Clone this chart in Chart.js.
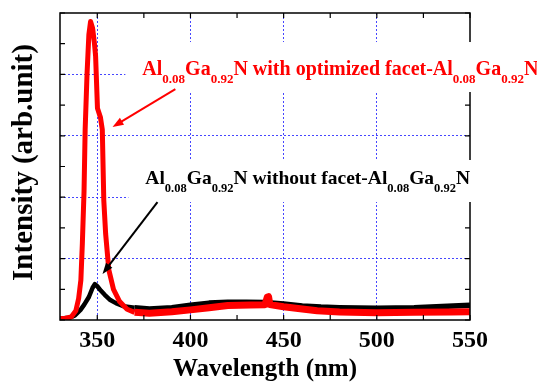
<!DOCTYPE html>
<html><head><meta charset="utf-8">
<script src="https://cdn.jsdelivr.net/npm/chart.js@4/dist/chart.umd.min.js"></script>
<style>html,body{margin:0;padding:0;background:#fff;}#wrap{width:537px;height:383px;}</style>
</head><body><div id="wrap"><canvas id="c" width="537" height="383"></canvas></div>
<script>
// ---- data (wavelength in nm, intensity in arb. units) ----
const RED_X = [330,333,336,338.5,340,341.2,342,342.9,343.5,344.5,345.5,346.4,347.5,348.5,349.1,350.1,351.7,352.7,353.5,354.5,356.2,358.7,362,366,370,378,390,400,410,420,432,440,441.2,441.9,442.6,450,460,468,480,500,520,540,550];
const RED_Y = [0.05,0.06,0.1,0.3,0.7,1.3,2.5,4.2,6.2,8.0,9.3,9.72,9.5,9.0,8.6,6.9,6.6,6.2,3.9,2.8,1.63,1.0,0.6,0.35,0.25,0.22,0.27,0.33,0.4,0.47,0.49,0.5,0.74,0.76,0.5,0.43,0.36,0.3,0.26,0.24,0.25,0.26,0.27];
const BLACK_X = [330,335,338,341,343,345.5,347.5,348.7,350,352,354,357,360,364,370,378,390,400,410,420,430,440,450,460,470,480,500,520,535,550];
const BLACK_Y = [0.05,0.07,0.15,0.33,0.5,0.75,1.05,1.17,1.1,0.95,0.82,0.65,0.55,0.45,0.4,0.36,0.4,0.48,0.55,0.58,0.58,0.57,0.52,0.46,0.42,0.4,0.38,0.4,0.44,0.48];

// ---- axes ----
const X_LABEL_TICKS = [350,400,450,500,550];
const X_MINOR_TICKS = [375,425,475,525];
const X_GRID = [350,400,450,500];
const Y_TICKS = [0,1,2,3,4,5,6,7,8,9,10];
const Y_GRID = [2,4,6,8];
const X_TITLE = 'Wavelength (nm)';
const Y_TITLE = 'Intensity (arb.unit)';

// ---- annotations ----
const RED_LABEL = [['Al',0],['0.08',1],['Ga',0],['0.92',1],['N with optimized facet-Al',0],['0.08',1],['Ga',0],['0.92',1],['N',0]];
const BLACK_LABEL = [['Al',0],['0.08',1],['Ga',0],['0.92',1],['N without facet-Al',0],['0.08',1],['Ga',0],['0.92',1],['N',0]];
const RED_LABEL_AT = [374.2, 7.98];
const BLACK_LABEL_AT = [375.8, 4.43];
const RED_ARROW = [[391.9, 7.52], [358.2, 6.29]];
const BLACK_ARROW = [[382.3, 3.84], [352.8, 1.5]];

const FONT = '"Liberation Serif", "Times New Roman", serif';
const GRID_BLUE = 'rgba(50,50,255,0.9)';

function pts(xs, ys){ return xs.map((x,i)=>({x:x, y:ys[i]})); }

function drawChem(ctx, x, y, parts, color, main, sub){
  ctx.fillStyle = color;
  ctx.textBaseline = 'alphabetic';
  ctx.textAlign = 'left';
  let cx = x;
  for (const [t, s] of parts){
    ctx.font = 'bold ' + (s ? sub : main) + 'px ' + FONT;
    ctx.fillText(t, cx, s ? y + 8 : y);
    cx += ctx.measureText(t).width;
  }
  return cx;
}
function chemWidth(ctx, parts, main, sub){
  let w = 0;
  for (const [t, s] of parts){
    ctx.font = 'bold ' + (s ? sub : main) + 'px ' + FONT;
    w += ctx.measureText(t).width;
  }
  return w;
}
function arrow(ctx, x1, y1, x2, y2, color){
  const a = Math.atan2(y2-y1, x2-x1);
  const L = 11, W = 4;
  ctx.strokeStyle = color; ctx.fillStyle = color; ctx.lineWidth = 2;
  ctx.beginPath(); ctx.moveTo(x1,y1);
  ctx.lineTo(x2 - L*0.8*Math.cos(a), y2 - L*0.8*Math.sin(a)); ctx.stroke();
  ctx.beginPath();
  ctx.moveTo(x2, y2);
  ctx.lineTo(x2 - L*Math.cos(a) + W*Math.sin(a), y2 - L*Math.sin(a) - W*Math.cos(a));
  ctx.lineTo(x2 - L*Math.cos(a) - W*Math.sin(a), y2 - L*Math.sin(a) + W*Math.cos(a));
  ctx.closePath(); ctx.fill();
}

const decor = {
  id: 'decor',
  afterDraw(chart){
    const ctx = chart.ctx, a = chart.chartArea;
    const xs = chart.scales.x, ys = chart.scales.y;
    ctx.save();
    // frame
    ctx.strokeStyle = '#000'; ctx.lineWidth = 1.5;
    ctx.strokeRect(a.left, a.top, a.right - a.left, a.bottom - a.top);
    // inward ticks
    ctx.lineWidth = 1.2;
    ctx.beginPath();
    for (const v of Y_TICKS){
      const y = ys.getPixelForValue(v);
      ctx.moveTo(a.left, y); ctx.lineTo(a.left + 5, y);
      ctx.moveTo(a.right, y); ctx.lineTo(a.right - 5, y);
    }
    for (const v of X_LABEL_TICKS.concat(X_MINOR_TICKS)){
      const x = xs.getPixelForValue(v);
      ctx.moveTo(x, a.bottom); ctx.lineTo(x, a.bottom - 5);
      ctx.moveTo(x, a.top); ctx.lineTo(x, a.top + 5);
    }
    ctx.stroke();
    // label boxes
    const rx = xs.getPixelForValue(RED_LABEL_AT[0]), ry = ys.getPixelForValue(RED_LABEL_AT[1]);
    const bx = xs.getPixelForValue(BLACK_LABEL_AT[0]), by = ys.getPixelForValue(BLACK_LABEL_AT[1]);
    const rw = chemWidth(ctx, RED_LABEL, 20, 13), bw = chemWidth(ctx, BLACK_LABEL, 19.5, 12.5);
    ctx.fillStyle = '#fff';
    ctx.fillRect(rx - 17, ry - 33, rw + 40, 50);
    ctx.fillRect(bx - 17, by - 24, bw + 20, 42);
    drawChem(ctx, rx, ry, RED_LABEL, '#ff0000', 20, 13);
    drawChem(ctx, bx, by, BLACK_LABEL, '#000', 19.5, 12.5);
    // arrows
    arrow(ctx, xs.getPixelForValue(RED_ARROW[0][0]), ys.getPixelForValue(RED_ARROW[0][1]),
               xs.getPixelForValue(RED_ARROW[1][0]), ys.getPixelForValue(RED_ARROW[1][1]), '#ff0000');
    arrow(ctx, xs.getPixelForValue(BLACK_ARROW[0][0]), ys.getPixelForValue(BLACK_ARROW[0][1]),
               xs.getPixelForValue(BLACK_ARROW[1][0]), ys.getPixelForValue(BLACK_ARROW[1][1]), '#000');
    // y title
    ctx.translate(25, (a.top + a.bottom) / 2 - 4);
    ctx.rotate(-Math.PI / 2);
    ctx.font = 'bold 29px ' + FONT;
    ctx.fillStyle = '#000'; ctx.textAlign = 'center'; ctx.textBaseline = 'middle';
    ctx.fillText(Y_TITLE, 0, 0);
    ctx.restore();
  }
};

const tailWidth = (base, tail) => (ctx => (ctx.p0.parsed.x > 366 ? tail : base));

new Chart(document.getElementById('c'), {
  type: 'line',
  data: {
    datasets: [
      { data: pts(RED_X, RED_Y), borderColor: '#ff0000', borderWidth: 5, pointRadius: 0, tension: 0, fill: false,
        borderJoinStyle: 'round', segment: { borderWidth: tailWidth(5, 7) } },
      { data: pts(BLACK_X, BLACK_Y), borderColor: '#000000', borderWidth: 4.5, pointRadius: 0, tension: 0, fill: false,
        borderJoinStyle: 'round', segment: { borderWidth: tailWidth(4.5, 5.5) } }
    ]
  },
  options: {
    responsive: false, animation: false, devicePixelRatio: 1,
    layout: { padding: { top: 13, right: 67, left: 0, bottom: 0 } },
    plugins: { legend: { display: false }, tooltip: { enabled: false } },
    scales: {
      x: {
        type: 'linear', min: 330, max: 550,
        afterBuildTicks: s => { s.ticks = X_GRID.concat(X_MINOR_TICKS, [550]).sort((p,q)=>p-q).map(v=>({value:v})); },
        afterFit: s => { s.height = 63; },
        ticks: { autoSkip: false, maxRotation: 0, padding: 6, color: '#000',
                 font: { family: FONT, size: 24, weight: 'bold' },
                 callback: v => X_LABEL_TICKS.includes(v) ? String(v) : '' },
        grid: { drawTicks: false, lineWidth: 1,
                color: c => (c.tick && X_GRID.includes(c.tick.value)) ? GRID_BLUE : 'rgba(0,0,0,0)' },
        border: { display: false, dash: [2, 2] },
        title: { display: true, text: X_TITLE, color: '#000', padding: 0,
                 font: { family: FONT, size: 25, weight: 'bold', lineHeight: 1.1 } }
      },
      y: {
        min: 0, max: 10,
        afterBuildTicks: s => { s.ticks = Y_TICKS.map(v=>({value:v})); },
        afterFit: s => { s.width = 60; },
        ticks: { display: false },
        grid: { drawTicks: false, lineWidth: 1,
                color: c => (c.tick && Y_GRID.includes(c.tick.value)) ? GRID_BLUE : 'rgba(0,0,0,0)' },
        border: { display: false, dash: [2, 2] }
      }
    }
  },
  plugins: [decor]
});
</script>
</body></html>
